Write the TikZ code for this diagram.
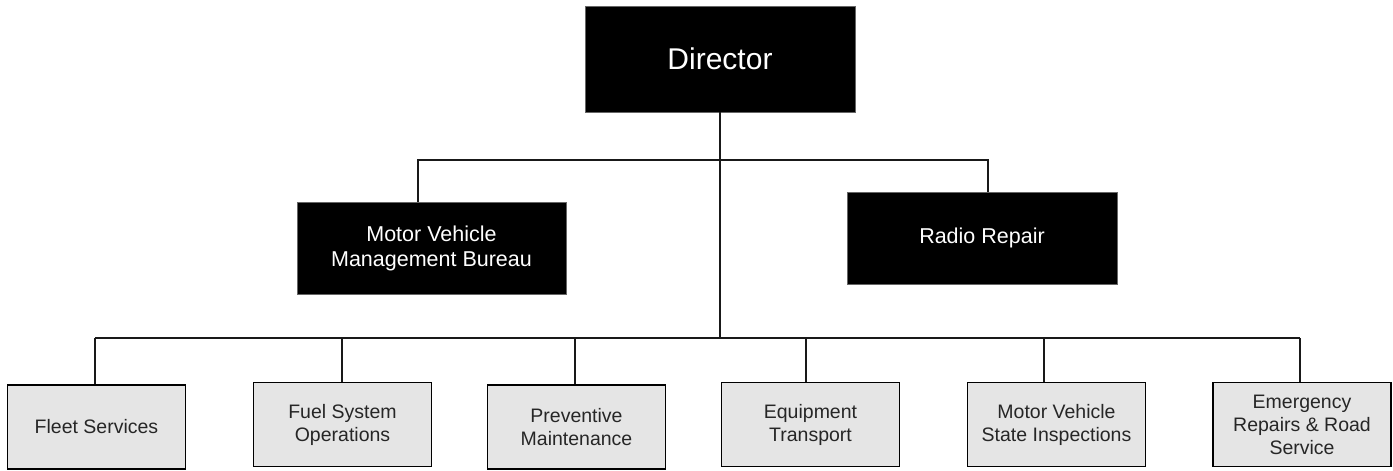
\documentclass[tikz,border=0pt]{standalone}
\usepackage{fontspec}
\setmainfont{Liberation Sans}
\begin{document}
\begin{tikzpicture}[x=1pt,y=-1pt,
  topbox/.style={draw=black!60,line width=0.6pt,fill=black,text=white,minimum width=270pt,inner sep=0pt,align=center},
  subbox/.style={draw=black,line width=1.4pt,fill=black!10,text=black!85,minimum width=178pt,minimum height=84pt,inner sep=0pt,align=center,font=\fontsize{19.5}{23}\selectfont},
  conn/.style={line width=1.6pt,draw=black!90}]
\useasboundingbox (0,0) rectangle (1393,471);
\node[topbox,minimum height=106pt,font=\fontsize{30}{34}\selectfont] (dir) at (720,59) {Director};
\node[topbox,minimum width=269pt,minimum height=92pt,font=\fontsize{21.5}{25}\selectfont] (mvmb) at (431.5,248) {Motor Vehicle\\Management Bureau};
\node[topbox,minimum height=92pt,font=\fontsize{21.5}{25}\selectfont] (radio) at (982,238) {Radio Repair};
\node[subbox] (fleet) at (96.5,427) {Fleet Services};
\node[subbox] (fuel) at (342.5,424.5) {Fuel System\\Operations};
\node[subbox] (prev) at (576.5,427) {Preventive\\Maintenance};
\node[subbox] (equip) at (810.5,424.5) {Equipment\\Transport};
\node[subbox] (mvsi) at (1056.5,424.5) {Motor Vehicle\\State Inspections};
\node[subbox] (emerg) at (1302,424.5) {Emergency\\Repairs \& Road\\Service};
\coordinate (t1) at (418,160);
\coordinate (t2) at (988,160);
\coordinate (d1) at (95,338);
\coordinate (d2) at (342,338);
\coordinate (d3) at (575,338);
\coordinate (d4) at (806,338);
\coordinate (d5) at (1044,338);
\coordinate (d6) at (1300,338);
\draw[conn] (dir.south) -- (dir.south |- d1);
\draw[conn] (mvmb.north -| t1) -- (t1) -- (t2) -- (radio.north -| t2);
\draw[conn] (d1) -- (d6);
\draw[conn] (d1) -- (d1 |- fleet.north);
\draw[conn] (d2) -- (d2 |- fuel.north);
\draw[conn] (d3) -- (d3 |- prev.north);
\draw[conn] (d4) -- (d4 |- equip.north);
\draw[conn] (d5) -- (d5 |- mvsi.north);
\draw[conn] (d6) -- (d6 |- emerg.north);
\end{tikzpicture}
\end{document}
